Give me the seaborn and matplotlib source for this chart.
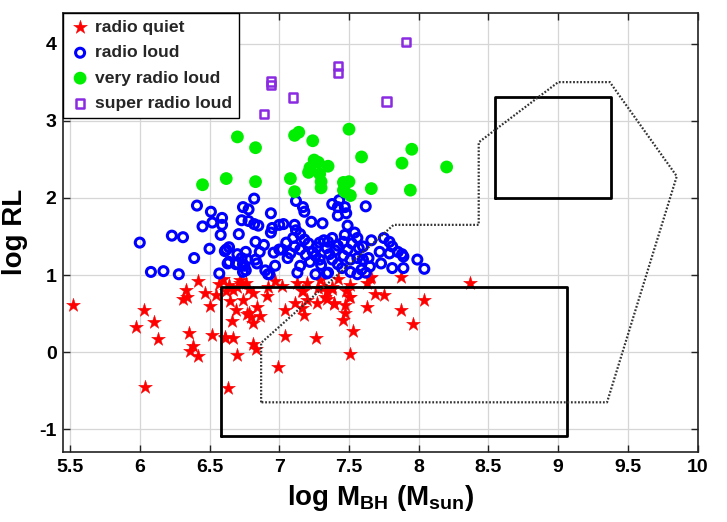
import matplotlib
matplotlib.use("Agg")
import matplotlib.pyplot as plt
import seaborn as sns
import pandas as pd

# ---- data: log black-hole mass vs. log radio loudness ----
rq_x = [5.52, 6.42, 6.33, 6.34, 6.31, 6.47, 6.55, 6.50, 6.03, 6.10, 5.97, 6.13, 6.35, 6.52,
        6.38, 6.36, 6.42, 6.61, 6.67, 6.70, 6.81, 6.83, 6.66, 6.77, 6.81, 6.86, 6.84, 6.69,
        6.74, 6.65, 6.91, 6.81, 6.72, 6.76, 6.62, 6.67, 6.64, 6.04, 6.63, 6.99, 7.51, 7.04,
        7.26, 7.53, 7.04, 7.11, 7.18, 7.16, 7.20, 7.27, 7.39, 7.46, 7.47, 7.47, 7.50, 7.63,
        7.69, 7.75, 7.87, 7.96, 8.04, 7.87, 7.16, 7.33, 7.32, 7.38, 7.65, 6.78, 6.80, 6.61,
        7.34, 7.39, 7.17, 7.28, 7.38, 7.51, 7.63, 7.66, 7.13, 7.20, 7.29, 7.42, 7.51, 7.48,
        7.34, 8.37, 6.72, 6.70, 6.78, 6.57, 6.60, 6.97, 7.02, 6.92]
rq_y = [0.61, 0.92, 0.80, 0.72, 0.69, 0.77, 0.74, 0.60, 0.54, 0.39, 0.32, 0.17, 0.25, 0.22,
        0.08, 0.02, -0.05, 0.18, 0.18, -0.04, 0.11, 0.04, 0.41, 0.49, 0.38, 0.47, 0.58, 0.55,
        0.67, 0.66, 0.73, 0.77, 0.94, 0.89, 0.79, 0.81, 0.87, -0.45, -0.47, -0.19, -0.02, 0.21,
        0.18, 0.28, 0.54, 0.64, 0.48, 0.57, 0.68, 0.64, 0.64, 0.42, 0.51, 0.61, 0.72, 0.59,
        0.76, 0.74, 0.55, 0.37, 0.68, 0.97, 0.79, 0.72, 0.84, 0.82, 0.96, 0.51, 0.46, 0.20,
        0.69, 0.63, 0.79, 0.83, 0.85, 0.72, 0.89, 0.97, 0.89, 0.90, 0.94, 0.95, 0.87, 0.79,
        0.79, 0.89, 0.90, 0.85, 0.82, 0.88, 0.95, 0.92, 0.86, 0.84]

rl_x = [6.00, 6.08, 6.17, 6.28, 6.23, 6.31, 6.39, 6.41, 6.45, 6.51, 6.52, 6.59, 6.59, 6.58,
        6.50, 6.57, 6.71, 6.82, 6.74, 6.78, 6.73, 6.64, 6.61, 6.70, 6.63, 6.74, 6.74, 6.69,
        6.62, 6.64, 6.78, 6.82, 6.85, 6.94, 6.94, 6.95, 7.00, 7.03, 6.83, 6.89, 6.86, 6.76,
        6.73, 6.77, 6.70, 6.75, 6.76, 6.84, 6.83, 6.90, 6.93, 6.97, 6.96, 7.00, 7.12, 7.17,
        7.18, 7.23, 7.11, 7.12, 7.15, 7.10, 7.11, 7.15, 7.21, 7.19, 7.24, 7.26, 7.29, 7.30,
        7.15, 7.13, 7.26, 7.34, 7.29, 7.32, 7.35, 7.38, 7.34, 7.38, 7.31, 7.38, 7.43, 7.42,
        7.42, 7.47, 7.48, 7.49, 7.54, 7.56, 7.47, 7.46, 7.42, 7.52, 7.57, 7.60, 7.66, 7.75,
        7.79, 7.81, 7.62, 7.51, 7.56, 7.60, 7.64, 7.65, 7.59, 7.56, 7.51, 7.45, 7.42, 7.72,
        7.73, 7.81, 7.89, 7.79, 7.85, 7.89, 7.88, 7.99, 8.04, 7.02, 6.92, 7.35, 7.62, 7.05,
        7.08, 7.22, 7.36, 7.46, 7.40, 7.27, 7.49, 7.06, 7.18]
rl_y = [1.42, 1.04, 1.05, 1.01, 1.51, 1.49, 1.22, 1.90, 1.63, 1.82, 1.68, 1.74, 1.65, 1.52,
        1.34, 1.02, 1.53, 1.99, 1.88, 1.85, 1.71, 1.36, 1.31, 1.27, 1.15, 1.14, 1.04, 1.14,
        1.33, 1.17, 1.70, 1.66, 1.64, 1.80, 1.55, 1.61, 1.65, 1.66, 1.43, 1.39, 1.30, 1.30,
        1.22, 1.20, 1.15, 1.12, 1.06, 1.15, 1.20, 1.06, 1.01, 1.12, 1.29, 1.33, 1.96, 1.88,
        1.82, 1.69, 1.65, 1.58, 1.53, 1.48, 1.37, 1.33, 1.41, 1.26, 1.30, 1.25, 1.20, 1.13,
        1.12, 1.03, 1.01, 1.02, 1.42, 1.45, 1.43, 1.48, 1.35, 1.20, 1.67, 1.92, 1.97, 1.88,
        1.77, 1.88, 1.80, 1.64, 1.55, 1.48, 1.52, 1.43, 1.38, 1.41, 1.35, 1.37, 1.45, 1.48,
        1.43, 1.37, 1.89, 1.20, 1.22, 1.20, 1.22, 1.11, 1.07, 1.01, 1.04, 1.09, 1.14, 1.30,
        1.15, 1.09, 1.09, 1.28, 1.30, 1.24, 1.27, 1.20, 1.08, 1.33, 1.01, 1.03, 1.03, 1.42,
        1.28, 1.17, 1.27, 1.25, 1.32, 1.36, 1.33, 1.22, 1.46]

vrl_x = [7.50, 6.70, 7.14, 7.11, 6.83, 7.24, 7.95, 7.59, 7.88, 7.25, 7.28, 7.35, 7.22, 8.20,
         7.21, 7.29, 6.62, 6.83, 7.08, 7.30, 7.30, 7.46, 7.50, 7.66, 7.94, 6.45, 7.11, 7.46,
         7.51, 7.47]
vrl_y = [2.89, 2.79, 2.85, 2.81, 2.65, 2.74, 2.63, 2.53, 2.45, 2.49, 2.46, 2.41, 2.39, 2.40,
         2.33, 2.31, 2.25, 2.21, 2.25, 2.21, 2.13, 2.20, 2.21, 2.12, 2.10, 2.17, 2.08, 2.10,
         2.03, 2.08]

srl_x = [7.91, 7.42, 7.42, 6.94, 6.94, 7.10, 7.77, 6.89]
srl_y = [4.02, 3.71, 3.62, 3.51, 3.46, 3.30, 3.25, 3.09]

# reference regions: two boxes and an outlined envelope
box_low_x = [6.58, 9.06, 9.06, 6.58, 6.58]
box_low_y = [-1.09, -1.09, 0.85, 0.85, -1.09]
box_high_x = [8.55, 9.38, 9.38, 8.55, 8.55]
box_high_y = [2.00, 2.00, 3.31, 3.31, 2.00]
env_x = [6.87, 6.87, 7.82, 8.43, 8.43, 9.00, 9.37, 9.85, 9.35, 6.87]
env_y = [-0.65, 0.12, 1.65, 1.65, 2.72, 3.50, 3.50, 2.28, -0.65, -0.65]

x_ticks = [5.5, 6, 6.5, 7, 7.5, 8, 8.5, 9, 9.5, 10]
x_tick_labels = ["5.5", "6", "6.5", "7", "7.5", "8", "8.5", "9", "9.5", "10"]
y_ticks = [-1, 0, 1, 2, 3, 4]
y_tick_labels = ["-1", "0", "1", "2", "3", "4"]

sns.set_theme(style="whitegrid")
plt.rcParams["font.family"] = ["Liberation Sans", "DejaVu Sans"]
plt.rcParams["font.weight"] = "bold"
plt.rcParams["mathtext.fontset"] = "custom"
plt.rcParams["mathtext.rm"] = "Liberation Sans:bold"
plt.rcParams["mathtext.it"] = "Liberation Sans:bold"
plt.rcParams["mathtext.bf"] = "Liberation Sans:bold"
plt.rcParams["mathtext.default"] = "rm"

fig = plt.figure(figsize=(7.27, 5.22), dpi=100)
ax = fig.add_axes([0.0873, 0.1347, 0.8724, 0.841])
ax.set_facecolor("white")

df_rq = pd.DataFrame({"x": rq_x, "y": rq_y})
df_rl = pd.DataFrame({"x": rl_x, "y": rl_y})
df_vrl = pd.DataFrame({"x": vrl_x, "y": vrl_y})
df_srl = pd.DataFrame({"x": srl_x, "y": srl_y})

sns.scatterplot(data=df_rq, x="x", y="y", ax=ax, marker="*", s=110, color="#ff0000",
                edgecolor="#ff0000", linewidth=0.3, label="radio quiet", zorder=3)
sns.scatterplot(data=df_rl, x="x", y="y", ax=ax, marker="o", s=42, facecolor="none",
                edgecolor="#0000ff", linewidth=2.2, label="radio loud", zorder=3)
sns.scatterplot(data=df_vrl, x="x", y="y", ax=ax, marker="o", s=85, color="#00ee00",
                edgecolor="none", linewidth=0, label="very radio loud", zorder=3)
sns.scatterplot(data=df_srl, x="x", y="y", ax=ax, marker="s", s=36, facecolor="none",
                edgecolor="#8a2be2", linewidth=1.8, label="super radio loud", zorder=3)

ax.plot(box_low_x, box_low_y, color="black", lw=2.0, zorder=4)
ax.plot(box_high_x, box_high_y, color="black", lw=2.0, zorder=4)
ax.plot(env_x, env_y, color="#333333", lw=1.6, ls=(0, (0.8, 0.8)), zorder=4)

ax.set_xlim(5.453, 10.0)
ax.set_ylim(-1.29, 4.40)
ax.set_xticks(x_ticks)
ax.set_xticklabels(x_tick_labels)
ax.set_yticks(y_ticks)
ax.set_yticklabels(y_tick_labels)
ax.grid(True, color="#d6d6d6", lw=0.9)
ax.set_axisbelow(True)

for sp in ax.spines.values():
    sp.set_visible(True)
    sp.set_color("#222222")
    sp.set_linewidth(1.2)

ax.tick_params(axis="both", which="both", direction="in", length=5, width=1,
               top=True, right=True, bottom=True, left=True, colors="#222222",
               labelsize=14, pad=5)
for lab in ax.get_xticklabels() + ax.get_yticklabels():
    lab.set_fontweight("bold")
    lab.set_color("black")

ax.set_xlabel(r"log M$_{BH}$ (M$_{sun}$)", fontsize=20, fontweight="bold", labelpad=5,
              color="black")
ax.set_ylabel("log RL", fontsize=20, fontweight="bold", labelpad=8, color="black")

leg = ax.legend(loc="upper left", borderaxespad=0, fancybox=False, framealpha=1,
                edgecolor="black", handletextpad=0.3, handlelength=1.1,
                labelspacing=0.58, borderpad=0.4, prop={"weight": "bold", "size": 12.6})
leg.get_frame().set_linewidth(1.0)
leg.set_zorder(6)

fig.savefig("out.png", dpi=100)
